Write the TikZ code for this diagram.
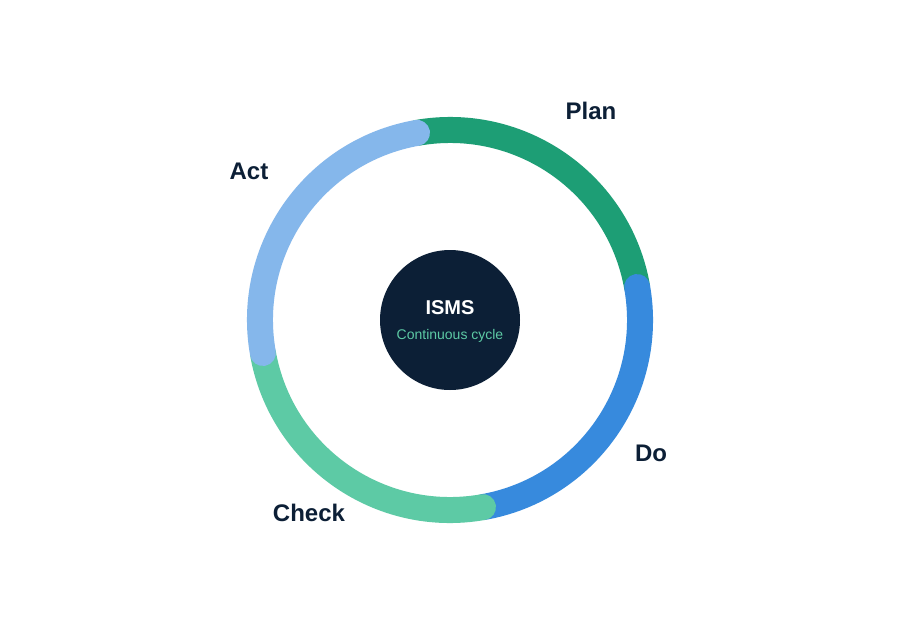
\documentclass[tikz,border=0pt]{standalone}
\usepackage{fontspec}
\setmainfont{Liberation Sans}
\definecolor{planc}{HTML}{1D9E75}
\definecolor{doc}{HTML}{378ADD}
\definecolor{checkc}{HTML}{5DCAA5}
\definecolor{actc}{HTML}{85B7EB}
\definecolor{navy}{HTML}{0C1F36}
\begin{document}
\begin{tikzpicture}[x=1pt,y=1pt,
  seg/.style={line width=26pt,line cap=round},
  lbl/.style={anchor=base,text=navy,font=\fontsize{24}{28}\selectfont\bfseries,inner sep=0pt}]
\useasboundingbox[fill=white] (0,0) rectangle (900,-640);
\coordinate (c) at (450,-320);
\draw[seg,planc] (c) ++(100:190) arc[start angle=100,end angle=10,radius=190];
\draw[seg,doc] (c) ++(10:190) arc[start angle=10,end angle=-80,radius=190];
\draw[seg,checkc] (c) ++(-80:190) arc[start angle=-80,end angle=-170,radius=190];
\draw[seg,actc] (c) ++(190:190) arc[start angle=190,end angle=100,radius=190];
\node[circle,fill=navy,minimum size=140pt,inner sep=0pt] (core) at (c) {};
\node[anchor=base,text=white,font=\fontsize{20}{24}\selectfont\bfseries,inner sep=0pt] (isms) at (450,-314) {ISMS};
\node[anchor=base,text=checkc,font=\fontsize{14}{16}\selectfont,inner sep=0pt] (sub) at (450,-339) {Continuous cycle};
\node[lbl] (plan) at (591,-119) {Plan};
\node[lbl] (do) at (651,-461) {Do};
\node[lbl] (check) at (309,-521.5) {Check};
\node[lbl] (act) at (249,-179) {Act};
\end{tikzpicture}
\end{document}
